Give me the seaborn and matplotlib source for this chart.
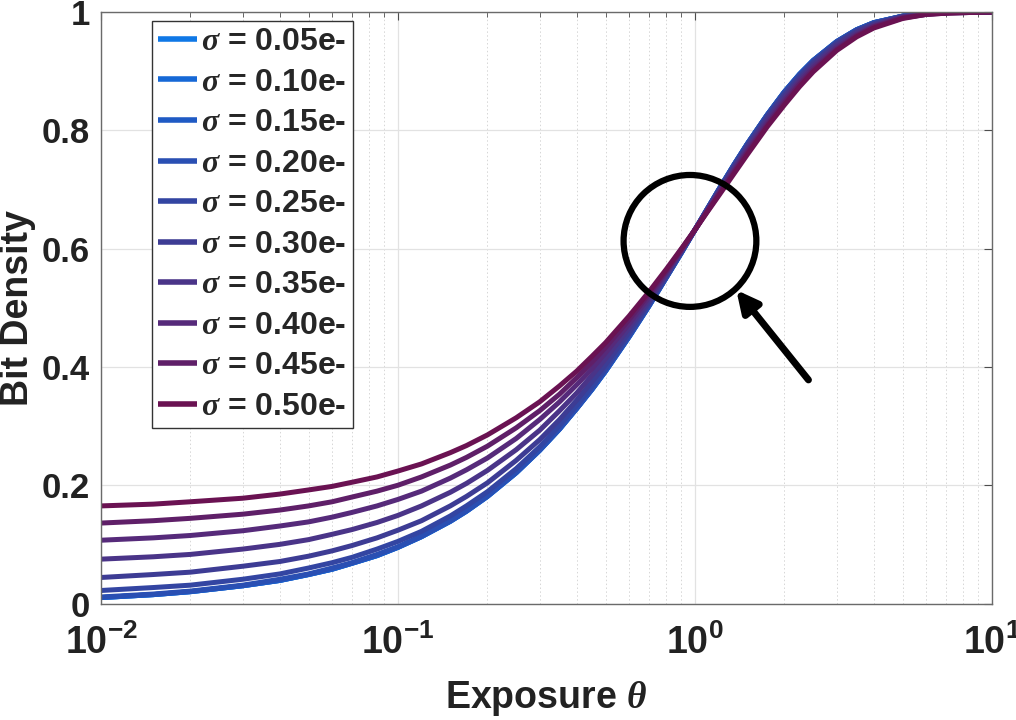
import numpy as np
import pandas as pd
import matplotlib
matplotlib.use("Agg")
import matplotlib.pyplot as plt
import seaborn as sns
from matplotlib.patches import Ellipse
from matplotlib.ticker import LogLocator, FuncFormatter, NullFormatter

# ── datos ───────────────────────────────────────────────────────────────────
exposure = [0.01, 0.015, 0.02, 0.03, 0.04, 0.05, 0.06, 0.07, 0.085, 0.1,
            0.12, 0.15, 0.17, 0.2, 0.25, 0.3, 0.35, 0.4, 0.45, 0.5,
            0.6, 0.7, 0.8, 0.9, 1.0, 1.1, 1.2, 1.35, 1.5, 1.75,
            2.0, 2.25, 2.5, 3.0, 3.5, 4.0, 5.0, 6.0, 7.0, 8.0, 10.0]

sigmas = ["0.05", "0.10", "0.15", "0.20", "0.25", "0.30", "0.35", "0.40", "0.45", "0.50"]

# las tres curvas de menor ruido se superponen en la figura
d_005 = [0.010, 0.015, 0.020, 0.030, 0.039, 0.049, 0.058, 0.068, 0.081, 0.095,
         0.113, 0.139, 0.156, 0.181, 0.221, 0.259, 0.295, 0.330, 0.362, 0.393,
         0.451, 0.503, 0.551, 0.593, 0.632, 0.667, 0.699, 0.741, 0.777, 0.826,
         0.865, 0.895, 0.918, 0.950, 0.970, 0.982, 0.993, 0.998, 0.999, 1.000, 1.000]
d_010 = [0.010, 0.015, 0.020, 0.030, 0.039, 0.049, 0.058, 0.068, 0.081, 0.095,
         0.113, 0.139, 0.156, 0.181, 0.221, 0.259, 0.295, 0.330, 0.362, 0.393,
         0.451, 0.503, 0.551, 0.593, 0.632, 0.667, 0.699, 0.741, 0.777, 0.826,
         0.865, 0.895, 0.918, 0.950, 0.970, 0.982, 0.993, 0.998, 0.999, 1.000, 1.000]
d_015 = [0.010, 0.015, 0.020, 0.030, 0.039, 0.049, 0.058, 0.068, 0.081, 0.095,
         0.113, 0.139, 0.156, 0.181, 0.221, 0.259, 0.295, 0.330, 0.362, 0.393,
         0.451, 0.503, 0.551, 0.593, 0.632, 0.667, 0.699, 0.741, 0.777, 0.826,
         0.865, 0.895, 0.918, 0.950, 0.970, 0.982, 0.993, 0.998, 0.999, 1.000, 1.000]
d_020 = [0.011, 0.016, 0.021, 0.031, 0.041, 0.050, 0.060, 0.069, 0.083, 0.096,
         0.114, 0.140, 0.157, 0.182, 0.222, 0.260, 0.296, 0.330, 0.363, 0.394,
         0.452, 0.504, 0.551, 0.594, 0.632, 0.667, 0.699, 0.741, 0.777, 0.826,
         0.865, 0.894, 0.918, 0.950, 0.970, 0.982, 0.993, 0.998, 0.999, 1.000, 1.000]
d_025 = [0.022, 0.027, 0.031, 0.041, 0.050, 0.060, 0.069, 0.078, 0.092, 0.105,
         0.122, 0.148, 0.165, 0.189, 0.228, 0.265, 0.301, 0.335, 0.367, 0.397,
         0.454, 0.505, 0.552, 0.594, 0.632, 0.667, 0.698, 0.740, 0.776, 0.825,
         0.863, 0.893, 0.916, 0.949, 0.969, 0.981, 0.993, 0.997, 0.999, 1.000, 1.000]
d_030 = [0.044, 0.049, 0.053, 0.063, 0.071, 0.080, 0.089, 0.098, 0.111, 0.124,
         0.140, 0.165, 0.181, 0.204, 0.242, 0.277, 0.311, 0.344, 0.375, 0.404,
         0.459, 0.509, 0.554, 0.595, 0.632, 0.666, 0.697, 0.738, 0.773, 0.822,
         0.860, 0.890, 0.914, 0.947, 0.967, 0.980, 0.992, 0.997, 0.999, 1.000, 1.000]
d_035 = [0.075, 0.079, 0.083, 0.092, 0.100, 0.108, 0.117, 0.125, 0.137, 0.149,
         0.165, 0.188, 0.203, 0.225, 0.260, 0.293, 0.326, 0.356, 0.386, 0.414,
         0.466, 0.513, 0.557, 0.596, 0.632, 0.665, 0.695, 0.735, 0.770, 0.818,
         0.856, 0.886, 0.910, 0.944, 0.965, 0.978, 0.992, 0.997, 0.999, 0.999, 1.000]
d_040 = [0.107, 0.111, 0.115, 0.123, 0.131, 0.138, 0.146, 0.154, 0.165, 0.176,
         0.190, 0.212, 0.226, 0.246, 0.279, 0.311, 0.341, 0.370, 0.397, 0.424,
         0.473, 0.518, 0.560, 0.597, 0.632, 0.664, 0.693, 0.732, 0.766, 0.813,
         0.851, 0.882, 0.906, 0.940, 0.962, 0.976, 0.991, 0.996, 0.999, 0.999, 1.000]
d_045 = [0.136, 0.140, 0.144, 0.151, 0.158, 0.165, 0.172, 0.180, 0.190, 0.200,
         0.214, 0.234, 0.247, 0.266, 0.297, 0.326, 0.354, 0.382, 0.408, 0.433,
         0.480, 0.523, 0.562, 0.599, 0.632, 0.663, 0.691, 0.729, 0.763, 0.809,
         0.847, 0.878, 0.902, 0.937, 0.960, 0.975, 0.990, 0.996, 0.998, 0.999, 1.000]
d_050 = [0.165, 0.168, 0.172, 0.178, 0.185, 0.192, 0.198, 0.205, 0.214, 0.224,
         0.236, 0.255, 0.267, 0.285, 0.314, 0.341, 0.368, 0.393, 0.418, 0.441,
         0.486, 0.527, 0.565, 0.600, 0.632, 0.662, 0.689, 0.726, 0.759, 0.806,
         0.843, 0.874, 0.899, 0.935, 0.958, 0.973, 0.989, 0.996, 0.998, 0.999, 1.000]

curvas = [d_005, d_010, d_015, d_020, d_025, d_030, d_035, d_040, d_045, d_050]
for c in curvas:
    assert len(c) == len(exposure)

colores = ["#0f78e6", "#1668d6", "#1f5ac4", "#2a4fb3", "#3345a2", "#3d3c94",
           "#4a3488", "#562a7a", "#5f1f68", "#6a1252"]

# tabla larga para seaborn
etiquetas = [r"$\sigma$ = " + s + "e-" for s in sigmas]
filas = []
for etiq, ys in zip(etiquetas, curvas):
    for x, y in zip(exposure, ys):
        filas.append({"exposure": x, "density": y, "sigma": etiq})
df = pd.DataFrame(filas)

# ── estilo ──────────────────────────────────────────────────────────────────
sns.set_theme(style="white")
plt.rcParams["font.family"] = ["Liberation Sans", "DejaVu Sans"]
plt.rcParams["font.weight"] = "bold"
plt.rcParams["mathtext.fontset"] = "custom"
plt.rcParams["mathtext.rm"] = "Liberation Sans:bold"
plt.rcParams["mathtext.bf"] = "Liberation Sans:bold"
plt.rcParams["mathtext.it"] = "Liberation Serif:italic"

fig = plt.figure(figsize=(10.16, 7.2), dpi=100)
ax = fig.add_axes([0.0994, 0.1618, 0.877, 0.8215])

sns.lineplot(data=df, x="exposure", y="density", hue="sigma", palette=colores,
             linewidth=3.6, ax=ax, legend=True)
for ln in ax.get_lines():
    ln.set_solid_joinstyle("round")
    ln.set_solid_capstyle("butt")

ax.set_xscale("log")
ax.set_xlim(1e-2, 10)
ax.set_ylim(0, 1)

# ticks
ax.xaxis.set_major_locator(LogLocator(base=10, numticks=10))
ax.xaxis.set_minor_locator(LogLocator(base=10, subs=np.arange(2, 10), numticks=20))
ax.xaxis.set_major_formatter(FuncFormatter(lambda v, p: r"$\mathbf{10^{%d}}$" % round(np.log10(v))))
ax.xaxis.set_minor_formatter(NullFormatter())
ax.set_yticks(np.arange(0, 1.01, 0.2))
ax.yaxis.set_major_formatter(FuncFormatter(lambda v, p: "{:g}".format(round(v, 1))))

ax.tick_params(axis="both", which="both", direction="in", top=True, right=True,
               color="#4d4d4d", labelcolor="#222222")
ax.tick_params(axis="both", which="major", length=6, width=0.8, labelsize=25)
ax.tick_params(axis="x", which="major", labelsize=27, pad=15)
ax.tick_params(axis="x", which="minor", length=3.5, width=0.6)
ax.tick_params(axis="y", which="major", pad=8)

# rejilla estilo MATLAB
ax.grid(True, which="major", color="#e2e2e2", linewidth=0.9, linestyle="-")
ax.grid(True, which="minor", axis="x", color="#d6d6d6", linewidth=0.7, linestyle=(0, (1.5, 2.5)))
ax.set_axisbelow(True)

for sp in ax.spines.values():
    sp.set_color("#6a6a6a")
    sp.set_linewidth(1.0)

ax.set_xlabel(r"Exposure $\theta$", fontsize=27, fontweight="bold", color="#222222", labelpad=12)
ax.set_ylabel("Bit Density", fontsize=27, fontweight="bold", color="#222222", labelpad=4)

# leyenda
handles, labels = ax.get_legend_handles_labels()
for h in handles:
    h.set_linewidth(4.0)
leg = ax.legend(handles, labels, loc="upper left", bbox_to_anchor=(0.057, 0.9853),
                borderaxespad=0, fontsize=23, frameon=True, fancybox=False,
                framealpha=1, edgecolor="#333333", handlelength=1.2,
                handletextpad=0.15, labelspacing=0.33, borderpad=0.2)
leg.get_frame().set_linewidth(1.0)
for t in leg.get_texts():
    t.set_fontweight("bold")

# círculo y flecha de anotación
circulo = Ellipse((0.661, 0.613), 0.149, 0.223, transform=ax.transAxes,
                  fill=False, edgecolor="black", linewidth=4.5, zorder=5)
ax.add_patch(circulo)
ax.annotate("", xy=(0.713, 0.530), xytext=(0.794, 0.378),
            xycoords="axes fraction", textcoords="axes fraction",
            arrowprops=dict(arrowstyle="-|>", color="black", lw=5,
                            mutation_scale=32, shrinkA=0, shrinkB=0),
            zorder=6)

plt.savefig("out.png", dpi=100)
plt.close()
